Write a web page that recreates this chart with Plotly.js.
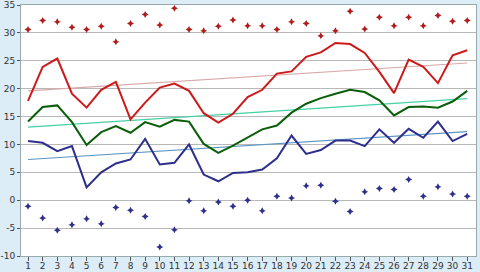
<!DOCTYPE html>
<html><head><meta charset="utf-8">
<script src="https://cdn.plot.ly/plotly-3.0.1.min.js"></script>
<style>html,body{margin:0;padding:0;background:#dcedf8;}#c{width:480px;height:272px;}</style>
</head><body><div id="c"></div>
<script>
const days = Array.from({length:31},(_,i)=>i+1);
const maxAbs = [30.6,32.2,32.0,31.0,30.6,31.2,28.4,31.7,33.3,31.4,34.4,30.6,30.4,31.2,32.3,31.3,31.3,30.6,32.0,31.7,29.5,30.4,33.9,30.7,32.8,31.3,32.8,31.3,33.1,32.1,32.2];
const maxAvg = [17.8,23.9,25.4,19.1,16.6,19.8,21.2,14.5,17.5,20.2,20.9,19.6,15.6,13.9,15.5,18.5,19.8,22.7,23.1,25.7,26.5,28.2,28.0,26.4,23.0,19.2,25.2,23.9,21.0,26.0,26.9];
const meanAvg = [14.1,16.7,17.0,14.0,9.9,12.2,13.3,12.1,14.0,13.2,14.4,14.1,10.1,8.5,9.8,11.3,12.7,13.4,15.7,17.3,18.3,19.1,19.8,19.4,17.9,15.2,16.7,16.8,16.6,17.7,19.6];
const minAvg = [10.6,10.3,8.8,9.7,2.3,5.0,6.6,7.3,11.0,6.4,6.7,10.0,4.6,3.4,4.9,5.0,5.5,7.5,11.6,8.3,9.0,10.7,10.7,9.7,12.7,10.3,12.8,11.2,14.1,10.6,11.9];
const minAbs = [-1.1,-3.2,-5.4,-4.4,-3.3,-4.2,-1.3,-1.8,-2.9,-8.4,-5.3,-0.1,-1.9,-0.3,-1.1,0.0,-1.9,0.7,0.4,2.6,2.7,-0.2,-2.0,1.5,2.1,1.9,3.7,0.7,2.4,1.1,0.7];
const trendX = [1,31];
const trendMax = [19.6,24.6];
const trendMean = [13.1,18.2];
const trendMin = [7.3,12.3];
const yTicks = [-10,-5,0,5,10,15,20,25,30,35];

const traces = [
 {x:trendX,y:trendMax,mode:'lines',line:{color:'#dba8a8',width:1.2}},
 {x:trendX,y:trendMean,mode:'lines',line:{color:'#45d0a5',width:1.2}},
 {x:trendX,y:trendMin,mode:'lines',line:{color:'#5a95c2',width:1.2}},
 {x:days,y:maxAvg,mode:'lines',line:{color:'#cc1a1a',width:2}},
 {x:days,y:meanAvg,mode:'lines',line:{color:'#0a5e0a',width:2}},
 {x:days,y:minAvg,mode:'lines',line:{color:'#2e2e8c',width:2}},
 {x:days,y:maxAbs,mode:'markers',marker:{symbol:'star-diamond',size:5,color:'#b01c1c'}},
 {x:days,y:minAbs,mode:'markers',marker:{symbol:'star-diamond',size:5,color:'#2e2e8c'}}
];
const layout = {
 width:480,height:272,showlegend:false,
 paper_bgcolor:'#dcedf8',plot_bgcolor:'#ffffff',
 margin:{l:21,r:4,t:5,b:16},
 font:{family:'DejaVu Sans, Verdana, sans-serif',size:9,color:'#333'},
 xaxis:{range:[0.52,31.6],tickmode:'array',tickvals:days,ticktext:days.map(String),tickangle:0,
   ticks:'outside',ticklen:4,tickcolor:'#555',ticklabelstandoff:-3,showgrid:false,zeroline:false,
   showline:true,linecolor:'#9aa',mirror:true,tickfont:{size:9},fixedrange:true},
 yaxis:{range:[-10,35],tickmode:'array',tickvals:yTicks,ticktext:yTicks.map(String),
   ticks:'outside',ticklen:3,tickcolor:'#555',showgrid:true,gridcolor:'#b8b8b8',gridwidth:1,
   zeroline:false,showline:true,linecolor:'#9aa',mirror:true,tickfont:{size:9},fixedrange:true}
};
Plotly.newPlot('c',traces,layout,{staticPlot:true});
</script></body></html>
